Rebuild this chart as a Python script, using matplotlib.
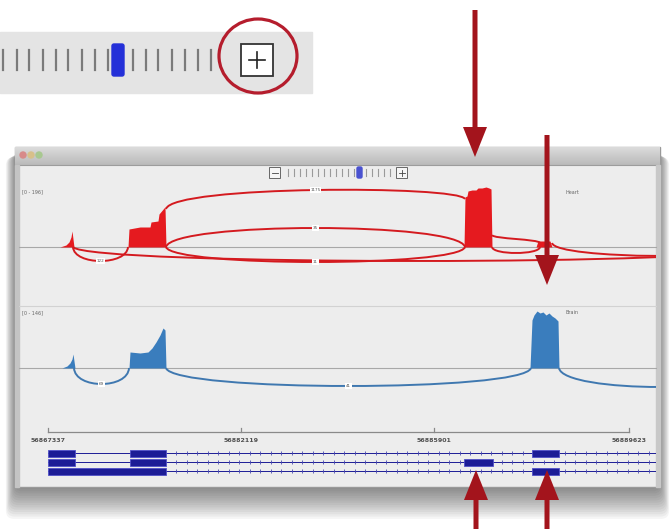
import numpy as np
import matplotlib.pyplot as plt
from matplotlib.patches import Rectangle, Ellipse, FancyArrow, FancyBboxPatch, PathPatch, Circle
from matplotlib.path import Path

# 缩放条刻度 / zoom slider ticks
strip_ticks_x = [3, 17, 29, 43, 56, 68, 82, 95, 108, 133, 146, 158, 172, 185, 198, 211]
win_ticks_x = [288, 294, 300, 306, 312, 318, 324, 330, 336, 342, 348, 354, 366, 372, 378, 384, 390]

# 红色样本覆盖度 (位置, 高度)
red_base = 247
red_spike_x = [60, 66, 69, 71, 72, 74]
red_spike_h = [0, 2, 5, 10, 16, 0]
red_ex2_x = [128, 129, 140, 150, 151, 158, 159, 164, 165, 166]
red_ex2_h = [0, 18, 20, 20, 25, 26, 33, 39, 40, 0]
red_ex3_x = [464, 465, 467, 468, 472, 476, 478, 482, 486, 489, 491, 492]
red_ex3_h = [0, 50, 51, 56, 57, 57, 59, 59, 60, 59, 58, 0]
red_ex4_x = [536, 538, 550, 552]
red_ex4_h = [0, 6, 6, 0]

# 蓝色样本覆盖度
blue_base = 368
blue_spike_x = [62, 67, 70, 72, 73, 75]
blue_spike_h = [0, 2, 5, 9, 14, 0]
blue_ex2_x = [129, 130, 140, 148, 152, 156, 160, 163, 165, 166]
blue_ex2_h = [0, 16, 15, 16, 20, 26, 33, 40, 38, 0]
blue_ex3_x = [530, 532, 534, 537, 540, 543, 546, 549, 552, 555, 558, 559]
blue_ex3_h = [0, 48, 53, 57, 55, 56, 53, 55, 52, 50, 47, 0]

# 剪接弧: 起点, 终点, 起点高, 终点高, 弧顶高 (负数在基线下方), 读数
red_arcs = [(166, 465, 38, 48, 57, 1175), (166, 465, 0, 0, 19, 35), (166, 465, 0, 0, -15, 11),
            (73, 128, 0, 0, -14, 122), (73, 760, 0, 0, -14, None), (492, 540, 0, 0, -6, None),
            (492, 540, 12, 4, 8, None), (552, 760, 4, 0, -9, None)]
blue_arcs = [(74, 129, 0, 0, -16, 69), (166, 531, 0, 0, -18, 41), (559, 760, 0, 0, -19, None)]

# 坐标尺
ruler_ticks_x = [48, 241, 434, 629]
ruler_labels = ['56867337', '56882119', '56885901', '56889623']

# 转录本: 每行的外显子区间
tx_rows_y = [453, 462, 471]
tx_exons = [[(48, 75), (130, 166), (532, 559)],
            [(48, 75), (130, 166), (464, 493)],
            [(48, 166), (532, 559)]]

arrow_red = '#a3141c'
cov_red = '#e51a1f'
cov_blue = '#3a7dbd'
navy = '#1c1c96'

fig = plt.figure(figsize=(6.7, 5.29), dpi=100)
ax = fig.add_axes([0, 0, 1, 1])
ax.set_xlim(0, 670)
ax.set_ylim(529, 0)
ax.axis('off')

# ---- 放大的缩放条 ----
ax.add_patch(Rectangle((0, 32), 312, 61, color='#e4e4e4', zorder=1))
for x in strip_ticks_x:
    ax.plot([x, x], [50, 70], color='#7a7a7a', lw=1.6, zorder=2)
ax.add_patch(FancyBboxPatch((112, 44), 12, 32, boxstyle='round,pad=0,rounding_size=2',
                            color='#2430d8', zorder=2))
ax.add_patch(Rectangle((241, 44), 32, 32, facecolor='white', edgecolor='#333333', lw=1.3, zorder=2))
ax.plot([249, 265], [60, 60], color='#222222', lw=1.2, zorder=3)
ax.plot([257, 257], [52, 68], color='#222222', lw=1.2, zorder=3)
ax.add_patch(Ellipse((258, 56), 78, 74, fill=False, edgecolor='#b51d2d', lw=2.3, zorder=4))

# ---- 窗口阴影和边框 ----
for i in range(14):
    ax.add_patch(FancyBboxPatch((15 - i * 0.7, 152 + i * 0.4), 645 + i * 1.4, 337 + i * 1.9,
                                boxstyle='round,pad=0,rounding_size=8',
                                color='black', alpha=0.04, lw=0, zorder=3))
win = Rectangle((15, 147), 645, 340, facecolor='#ededed', edgecolor='#9a9a9a', lw=1, zorder=4)
ax.add_patch(win)
grad = np.linspace(0.86, 0.73, 30)
grad = np.dstack([grad, grad, grad]).reshape(-1, 1, 3)
ax.imshow(grad, extent=(15, 660, 165, 147), aspect='auto', zorder=5)
ax.plot([15, 660], [165, 165], color='#9c9c9c', lw=0.8, zorder=5)
ax.add_patch(Rectangle((15, 165), 4, 322, color='#c4c4c4', zorder=5))
ax.add_patch(Rectangle((656, 165), 4, 322, color='#c8c8c8', zorder=5))
for cx, c in zip([23, 31, 39], ['#d88a8a', '#d8c08a', '#a8c890']):
    ax.add_patch(Circle((cx, 155), 3, color=c, zorder=6))

clip = Rectangle((19, 165), 637, 322, transform=ax.transData)

# 窗口里的小缩放条
ax.add_patch(Rectangle((269, 167), 11, 11, facecolor='#f6f6f6', edgecolor='#666666', lw=0.7, zorder=6))
ax.add_patch(Rectangle((396, 167), 11, 11, facecolor='#f6f6f6', edgecolor='#666666', lw=0.7, zorder=6))
ax.plot([271.5, 277.5], [172.5, 172.5], color='#444444', lw=0.6, zorder=7)
ax.plot([398.5, 404.5], [172.5, 172.5], color='#444444', lw=0.6, zorder=7)
ax.plot([401.5, 401.5], [169.5, 175.5], color='#444444', lw=0.6, zorder=7)
for x in win_ticks_x:
    ax.plot([x, x], [169, 176], color='#9a9a9a', lw=0.8, zorder=6)
ax.add_patch(FancyBboxPatch((357, 167), 5, 11, boxstyle='round,pad=0,rounding_size=1.5',
                            color='#4a52d0', zorder=6))


# ---- 覆盖度轨道 ----
def arc(x0, x1, h0, h1, peak, base, color, label):
    y0, y1, yp = base - h0, base - h1, base - peak
    c = (8 * yp - y0 - y1) / 6.0   # 控制点, 使曲线中点落在弧顶
    dx = 0.02 * (x1 - x0)
    verts = [(x0, y0), (x0 + dx, c), (x1 - dx, c), (x1, y1)]
    p = PathPatch(Path(verts, [Path.MOVETO, Path.CURVE4, Path.CURVE4, Path.CURVE4]),
                  fill=False, edgecolor=color, lw=1.4, zorder=8)
    ax.add_patch(p)
    p.set_clip_path(clip)
    if label is not None:
        ax.text((x0 + x1) / 2, yp, str(label), fontsize=3, color='#555555',
                ha='center', va='center', zorder=9,
                bbox=dict(boxstyle='square,pad=0.15', fc='white', ec='none'))


for base, name, rng in [(red_base, 'Heart', '[0 - 196]'), (blue_base, 'Brain', '[0 - 146]')]:
    ax.plot([19, 656], [base, base], color='#a8a8a8', lw=0.8, zorder=6)
    ax.text(22, base - 55, rng, fontsize=3.5, color='#666666', va='center', zorder=6)
    ax.text(565, base - 55, name, fontsize=3.5, color='#666666', va='center', zorder=6)
ax.plot([19, 656], [306, 306], color='#d2d2d2', lw=0.8, zorder=6)

for xs, hs in [(red_spike_x, red_spike_h), (red_ex2_x, red_ex2_h),
               (red_ex3_x, red_ex3_h), (red_ex4_x, red_ex4_h)]:
    ax.fill_between(xs, red_base, red_base - np.array(hs), color=cov_red, lw=0, zorder=7)
for xs, hs in [(blue_spike_x, blue_spike_h), (blue_ex2_x, blue_ex2_h), (blue_ex3_x, blue_ex3_h)]:
    ax.fill_between(xs, blue_base, blue_base - np.array(hs), color=cov_blue, lw=0, zorder=7)

for x0, x1, h0, h1, pk, lab in red_arcs:
    arc(x0, x1, h0, h1, pk, red_base, '#d41a1f', lab)
for x0, x1, h0, h1, pk, lab in blue_arcs:
    arc(x0, x1, h0, h1, pk, blue_base, '#3f78b0', lab)

# ---- 坐标尺 ----
ax.plot([ruler_ticks_x[0], ruler_ticks_x[-1]], [432, 432], color='#8a8a8a', lw=0.9, zorder=6)
for x, lab in zip(ruler_ticks_x, ruler_labels):
    ax.plot([x, x], [428, 432], color='#8a8a8a', lw=0.9, zorder=6)
    ax.text(x, 440, lab, fontsize=4.5, color='#505050', ha='center', va='center', zorder=6,
            fontweight='bold')

# ---- 转录本 ----
tick_x = np.arange(176, 660, 10.5)
for y, exons in zip(tx_rows_y, tx_exons):
    ln, = ax.plot([48, 660], [y, y], color=navy, lw=0.7, zorder=6)
    ln.set_clip_path(clip)
    mk, = ax.plot(tick_x, [y] * len(tick_x), ls='none', marker='|', ms=3, mew=0.6,
                  color='#4a4ab0', zorder=6)
    mk.set_clip_path(clip)
    for a, b in exons:
        ax.add_patch(Rectangle((a, y - 3.5), b - a, 7, facecolor=navy, edgecolor='#5050c8',
                               lw=0.6, zorder=7))

# ---- 箭头 ----
for x, y0, y1 in [(475, 10, 157), (547, 135, 285), (476, 529, 470), (547, 529, 470)]:
    ax.add_patch(FancyArrow(x, y0, 0, y1 - y0, width=5, head_width=24, head_length=30,
                            length_includes_head=True, color=arrow_red, lw=0, zorder=12))

fig.savefig('out.png', dpi=100)
